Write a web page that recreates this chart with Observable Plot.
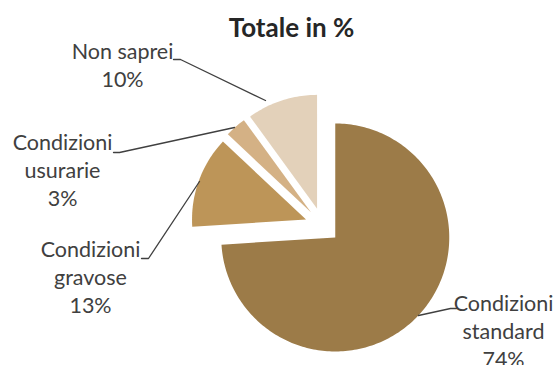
<!DOCTYPE html>
<html><head><meta charset="utf-8">
<script src="https://cdn.jsdelivr.net/npm/d3@7"></script>
<script src="https://cdn.jsdelivr.net/npm/@observablehq/plot@0.6"></script>
<style>body{margin:0;background:#fff}</style>
</head><body><div id="chart"></div>
<script>
// ---- data ----
const title = "Totale in %";
const categories = ["Condizioni standard", "Condizioni gravose", "Condizioni usurarie", "Non saprei"];
const values = [74, 13, 3, 10];
const labelLines = [["Condizioni", "standard", "74%"], ["Condizioni", "gravose", "13%"], ["Condizioni", "usurarie", "3%"], ["Non saprei", "10%"]];
const colors = ["#9c7b48", "#bd9558", "#d4b185", "#e3d1ba"];

// ---- layout (pixel space) ----
const W = 555, H = 365, cx = 322, cy = 225, R = 114, explode = 17.5;
const labelPos = [[503, 304], [90, 250], [62, 143], [122, 52]];
const leaderPos = [
  [[418, 315], [450, 308], [456, 308]],
  [[199, 181], [148, 258], [141, 258]],
  [[234, 127], [119, 152], [113, 152]],
  [[265, 100], [180, 59], [173, 59]]
];
const FONT = "Lato, 'Open Sans', sans-serif";

const pie = d3.pie().sort(null).startAngle(0)(values);
const slices = pie.map((p, i) => {
  const mid = (p.startAngle + p.endAngle) / 2;
  const ox = cx + explode * Math.sin(mid), oy = cy - explode * Math.cos(mid);
  const pts = [{x: ox, y: oy}];
  const n = Math.max(4, Math.ceil((p.endAngle - p.startAngle) / 0.02));
  for (let k = 0; k <= n; k++) {
    const a = p.startAngle + (p.endAngle - p.startAngle) * k / n;
    pts.push({x: ox + R * Math.sin(a), y: oy - R * Math.cos(a)});
  }
  pts.push({x: ox, y: oy});
  return pts;
});

const textRows = [];
labelLines.forEach((lines, i) => lines.forEach((t, j) => textRows.push({x: labelPos[i][0], y: labelPos[i][1] + j * 28, t})));
const leaders = [];
leaderPos.forEach((pts, i) => pts.forEach(([x, y]) => leaders.push({cat: categories[i], x, y})));

const marks = [];
slices.forEach((pts, i) => marks.push(Plot.line(pts, {x: "x", y: "y", fill: colors[i], stroke: "none", curve: "linear"})));
marks.push(Plot.line(leaders, {x: "x", y: "y", z: "cat", stroke: "#404040", strokeWidth: 1.3}));
marks.push(Plot.text(textRows, {x: "x", y: "y", text: "t", fontSize: 21.5, fill: "#404040", fontFamily: FONT, textAnchor: "middle"}));
marks.push(Plot.text([title], {x: () => 291, y: () => 28, text: d => d, fontSize: 26, fontWeight: "bold", fill: "#262626", fontFamily: FONT, textAnchor: "middle"}));

const chart = Plot.plot({
  width: W, height: H, margin: 0,
  x: {domain: [0, W], range: [0, W], axis: null},
  y: {domain: [0, H], range: [0, H], axis: null},
  marks
});
document.getElementById("chart").appendChild(chart);
</script>
</body></html>
